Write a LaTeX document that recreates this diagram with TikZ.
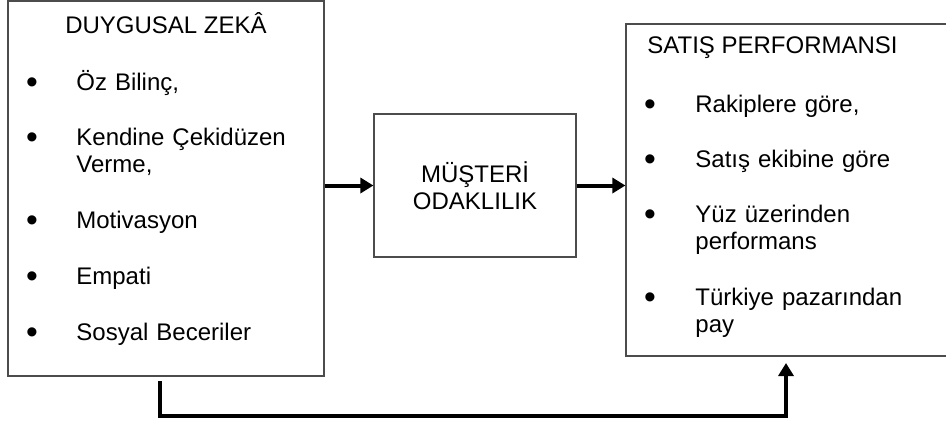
\documentclass[tikz,border=0pt]{standalone}
\usepackage{fontspec}
\setmainfont{Liberation Sans}
\usetikzlibrary{arrows.meta, positioning}
\newcommand{\nokta}{\raisebox{-1.6pt}{\scalebox{1.4}{\textbullet}}}

\begin{document}
\begin{tikzpicture}[x=0.5pt, y=-0.5pt, font=\fontsize{12}{13.5}\selectfont]
\tikzstyle{kutu}=[draw=black!70, line width=0.6pt, inner sep=0pt]
\tikzstyle{baslik}=[inner sep=0pt]
\tikzstyle{madde}=[inner sep=0pt, anchor=base]
\tikzstyle{yazi}=[inner sep=0pt, anchor=base west, text width=125pt, align=left]
\tikzstyle{ok}=[-{Triangle[length=6.5pt, width=7.5pt]}, line width=2pt]
\useasboundingbox (0,0) rectangle (946,425);
% kutular
\node[kutu, minimum width=158pt, minimum height=187.5pt] (dz) at (166,188.5) {};
\node[kutu, minimum width=101pt, minimum height=71.5pt, align=center] (mo) at (475,185.5) {MÜŞTERİ\\ODAKLILIK};
\node[kutu, minimum width=163pt, minimum height=166pt] (sp) at (789,190) {};
% basliklar
\node[baslik, anchor=base] (dzb) at (166,33) {DUYGUSAL ZEKÂ};
\node[baslik, anchor=base west] (spb) at (647,53) {SATIŞ PERFORMANSI};
% maddeler
\foreach \y/\t [count=\i] in {90/{Öz Bilinç,}, 145/{Kendine Çekidüzen\\Verme,}, 228/{Motivasyon}, 284/{Empati}, 340/{Sosyal Beceriler}} {
  \node[madde] (dzm\i) at (32,\y) {\nokta};
  \node[yazi] (dzy\i) at (76,\y) {\t};
}
\foreach \y/\t [count=\i] in {112/{Rakiplere göre,}, 167/{Satış ekibine göre}, 222/{Yüz üzerinden\\performans}, 305/{Türkiye pazarından\\pay}} {
  \node[madde] (spm\i) at (650,\y) {\nokta};
  \node[yazi] (spy\i) at (695,\y) {\t};
}
% oklar
\coordinate (a1) at (160,381);
\coordinate (a2) at (786,416);
\coordinate (a3) at (786,363);
\draw[ok] (dz.east |- mo.west) -- (mo.west);
\draw[ok] (mo.east) -- (mo.east -| sp.west);
\draw[ok] (a1) |- (a2) -- (a3);
\end{tikzpicture}
\end{document}
